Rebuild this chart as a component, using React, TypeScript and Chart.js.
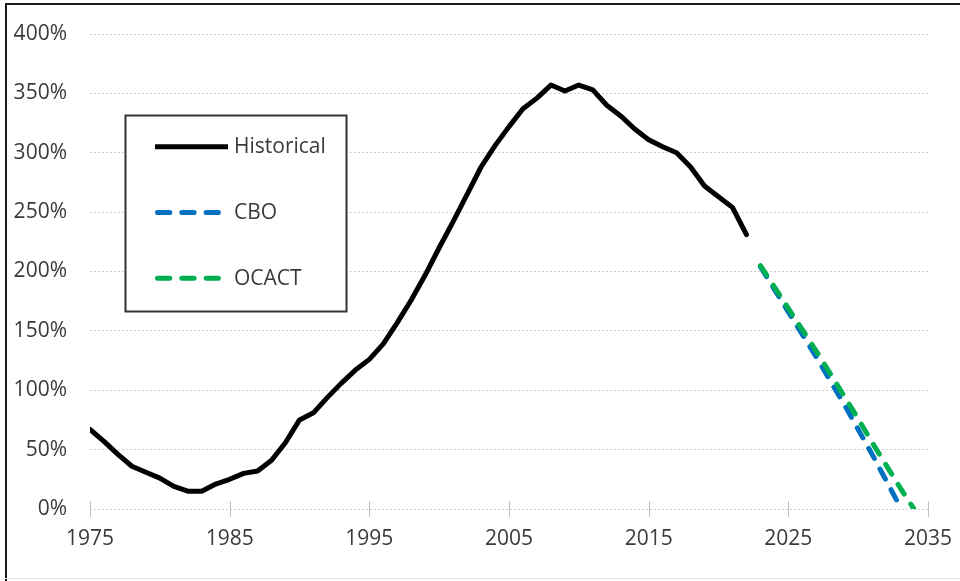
import React, { useEffect, useRef } from "react";
import { Chart, registerables } from "chart.js";

Chart.register(...registerables);

// ---------- data ----------
const seriesLabels = ["Historical", "CBO", "OCACT"];

const histYears = [
  1975, 1976, 1977, 1978, 1979, 1980, 1981, 1982, 1983, 1984, 1985, 1986,
  1987, 1988, 1989, 1990, 1991, 1992, 1993, 1994, 1995, 1996, 1997, 1998,
  1999, 2000, 2001, 2002, 2003, 2004, 2005, 2006, 2007, 2008, 2009, 2010,
  2011, 2012, 2013, 2014, 2015, 2016, 2017, 2018, 2019, 2020, 2021, 2022,
];
const histValues = [
  67, 57, 46, 36, 31, 26, 19, 15, 15, 21, 25, 30,
  32, 41, 56, 75, 81, 94, 106, 117, 126, 139, 157, 176,
  197, 220, 242, 265, 288, 306, 322, 337, 346, 357, 352, 357,
  353, 340, 331, 320, 311, 305, 300, 288, 272, 263, 254, 231,
];

const cboYears = [2023, 2024, 2025, 2026, 2027, 2028, 2029, 2030, 2031, 2032, 2033];
const cboValues = [204, 185, 166, 147, 128, 108, 88, 67, 46, 24, 2];

const ocactYears = [2023, 2024, 2025, 2026, 2027, 2028, 2029, 2030, 2031, 2032, 2033, 2034];
const ocactValues = [205, 187, 169, 151, 133, 114, 95, 76, 56, 37, 18, 0];

const xTickYears = [1975, 1985, 1995, 2005, 2015, 2025, 2035];
const yTickValues = [0, 50, 100, 150, 200, 250, 300, 350, 400];

// ---------- styles ----------
const FONT = "'Open Sans', 'Noto Sans', sans-serif";
const TEXT = "#3a3a3a";
const DASH = [11.5, 12];

const toPoints = (xs: number[], ys: number[]) => xs.map((x, i) => ({ x, y: ys[i] }));

const xTickMarks = {
  id: "xTickMarks",
  afterDraw(chart: any) {
    const { ctx, chartArea } = chart;
    const xs = chart.scales.x;
    ctx.save();
    ctx.strokeStyle = "#bfbfbf";
    ctx.lineWidth = 1;
    xTickYears.forEach((v) => {
      const px = Math.round(xs.getPixelForValue(v)) + 0.5;
      ctx.beginPath();
      ctx.moveTo(px, chartArea.bottom - 8);
      ctx.lineTo(px, chartArea.bottom + 8);
      ctx.stroke();
    });
    ctx.restore();
  },
};

const boxLegend = {
  id: "boxLegend",
  afterDraw(chart: any) {
    const { ctx } = chart;
    const left = 125.5;
    const top = 115.5;
    const w = 221;
    const h = 196;
    ctx.save();
    ctx.fillStyle = "#ffffff";
    ctx.fillRect(left, top, w, h);
    ctx.strokeStyle = "#333333";
    ctx.lineWidth = 2;
    ctx.strokeRect(left, top, w, h);
    chart.data.datasets.forEach((ds: any, i: number) => {
      const y = 146.7 + i * 65.8;
      ctx.beginPath();
      ctx.strokeStyle = ds.borderColor;
      ctx.lineWidth = 5;
      ctx.lineCap = ds.borderDash ? "round" : "butt";
      ctx.setLineDash(ds.borderDash ? [12.3, 12] : []);
      ctx.moveTo(ds.borderDash ? 157.5 : 155, y);
      ctx.lineTo(ds.borderDash ? 225.5 : 228, y);
      ctx.stroke();
      ctx.setLineDash([]);
      ctx.fillStyle = TEXT;
      ctx.font = `21px ${FONT}`;
      ctx.textBaseline = "middle";
      ctx.textAlign = "left";
      ctx.fillText(ds.label, 234, y + 0.5);
    });
    ctx.restore();
  },
};

export default function App() {
  const ref = useRef<HTMLCanvasElement | null>(null);

  useEffect(() => {
    if (!ref.current) return;
    const chart = new Chart(ref.current, {
      type: "line",
      data: {
        datasets: [
          {
            label: seriesLabels[0],
            data: toPoints(histYears, histValues),
            borderColor: "#000000",
            borderWidth: 5,
            pointRadius: 0,
            tension: 0,
            borderJoinStyle: "round",
            borderCapStyle: "round",
            order: 0,
          },
          {
            label: seriesLabels[1],
            data: toPoints(cboYears, cboValues),
            borderColor: "#0070C0",
            borderWidth: 5,
            borderDash: DASH,
            borderCapStyle: "round",
            pointRadius: 0,
            tension: 0,
            order: 2,
          },
          {
            label: seriesLabels[2],
            data: toPoints(ocactYears, ocactValues),
            borderColor: "#00B050",
            borderWidth: 5,
            borderDash: DASH,
            borderCapStyle: "round",
            pointRadius: 0,
            tension: 0,
            order: 1,
          },
        ],
      },
      options: {
        animation: false,
        responsive: false,
        maintainAspectRatio: false,
        layout: { padding: { top: 34, right: 32, left: 0, bottom: 0 } },
        plugins: {
          legend: { display: false },
          tooltip: { enabled: false },
        },
        scales: {
          x: {
            type: "linear",
            min: 1975,
            max: 2035,
            afterBuildTicks: (axis: any) => {
              axis.ticks = xTickYears.map((v) => ({ value: v }));
            },
            afterFit: (axis: any) => {
              axis.height = 72;
              axis.paddingLeft = 0;
              axis.paddingRight = 0;
            },
            grid: { display: false, drawTicks: false },
            border: { display: false },
            ticks: {
              padding: 17.5,
              color: TEXT,
              font: { family: FONT, size: 21 },
              maxRotation: 0,
              autoSkip: false,
              callback: (v: any) => String(v),
            },
          },
          y: {
            min: 0,
            max: 400,
            afterBuildTicks: (axis: any) => {
              axis.ticks = yTickValues.map((v) => ({ value: v }));
            },
            afterFit: (axis: any) => {
              axis.width = 90;
              axis.paddingTop = 0;
              axis.paddingBottom = 0;
            },
            grid: { color: "#cfcfcf", lineWidth: 1, drawTicks: false },
            border: { display: false, dash: [2, 2] },
            ticks: {
              padding: 23,
              color: TEXT,
              font: { family: FONT, size: 21 },
              callback: (v: any) => `${v}%`,
            },
          },
        },
      },
      plugins: [xTickMarks, boxLegend],
    });
    return () => chart.destroy();
  }, []);

  return (
    <div
      style={{
        position: "fixed",
        left: 0,
        top: 0,
        width: 960,
        height: 581,
        background: "#ffffff",
        overflow: "hidden",
      }}
    >
      <canvas ref={ref} width={960} height={581} style={{ position: "absolute", left: 0, top: 0, width: 960, height: 581 }} />
      <div style={{ position: "absolute", left: 5, top: 3, width: 2, height: 578, background: "#1a1a1a" }} />
      <div style={{ position: "absolute", left: 5, top: 3, width: 955, height: 2, background: "#1a1a1a" }} />
      <div style={{ position: "absolute", left: 5, top: 578, width: 955, height: 1, background: "#e3e3e3" }} />
    </div>
  );
}
